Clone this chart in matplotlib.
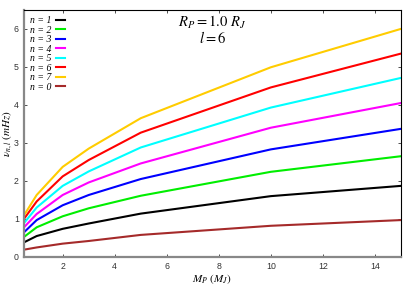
import matplotlib
matplotlib.use("Agg")
import matplotlib.pyplot as plt

mass = [0.5, 1, 2, 3, 5, 10, 15]
series_labels = ["1", "2", "3", "4", "5", "6", "7", "0"]
nu_n1 = [0.38, 0.55, 0.74, 0.88, 1.14, 1.60, 1.87]
nu_n2 = [0.52, 0.78, 1.07, 1.28, 1.61, 2.24, 2.65]
nu_n3 = [0.64, 0.97, 1.36, 1.63, 2.05, 2.83, 3.37]
nu_n4 = [0.77, 1.13, 1.63, 1.96, 2.46, 3.40, 4.05]
nu_n5 = [0.88, 1.30, 1.87, 2.25, 2.88, 3.93, 4.71]
nu_n6 = [0.99, 1.46, 2.12, 2.55, 3.27, 4.46, 5.35]
nu_n7 = [1.08, 1.63, 2.37, 2.85, 3.65, 4.99, 6.00]
nu_n0 = [0.19, 0.25, 0.35, 0.42, 0.58, 0.82, 0.97]
xticks = [2, 4, 6, 8, 10, 12, 14]
yticks = [0, 1, 2, 3, 4, 5, 6]

series = [nu_n1, nu_n2, nu_n3, nu_n4, nu_n5, nu_n6, nu_n7, nu_n0]
colors = ["#000000", "#00ee00", "#0000ff", "#ff00ff", "#00ffff", "#ff0000", "#ffcc00", "#a52a2a"]

plt.rcParams['mathtext.fontset'] = 'stix'

fig = plt.figure(figsize=(4.15, 2.91), dpi=100)
ax = fig.add_axes([0.057, 0.117, 0.909, 0.849])

for vals, lab, c in zip(series, series_labels, colors):
    ax.plot(mass, vals, color=c, lw=1.5, label=f"n = {lab}")

ax.set_xlim(0.5, 15)
ax.set_ylim(0, 6.5)
ax.set_xticks(xticks)
ax.set_yticks(yticks)
ax.tick_params(direction='in', length=2.5, width=0.6, labelsize=6.3, pad=3.5,
               top=True, right=True, colors='#333333')
for lbl in ax.get_xticklabels() + ax.get_yticklabels():
    lbl.set_family('Liberation Sans')

for s in ['left', 'bottom']:
    ax.spines[s].set_color('#888888')
    ax.spines[s].set_linewidth(1.6)
for s in ['top', 'right']:
    ax.spines[s].set_color('#000000')
    ax.spines[s].set_linewidth(0.8)

ax.set_xlabel(r'$M_P\ (M_J)$', fontsize=8, labelpad=1)
ax.set_ylabel(r'$\nu_{n,l}\ (mHz)$', fontsize=8)
ax.yaxis.set_label_coords(-0.024, 0.5)

leg = ax.legend(loc='upper left', markerfirst=False, frameon=False,
                handlelength=0.9, handletextpad=0.5, labelspacing=0.05,
                borderaxespad=0.25, prop={'family': 'Liberation Serif', 'style': 'italic', 'size': 7})

ax.text(0.5, 0.95, r'$R_P = 1.0\ R_J$', transform=ax.transAxes, ha='center', va='center', fontsize=10.5)
ax.text(0.5, 0.885, r'$l = 6$', transform=ax.transAxes, ha='center', va='center', fontsize=10.5)

fig.savefig("out.png", dpi=100)
